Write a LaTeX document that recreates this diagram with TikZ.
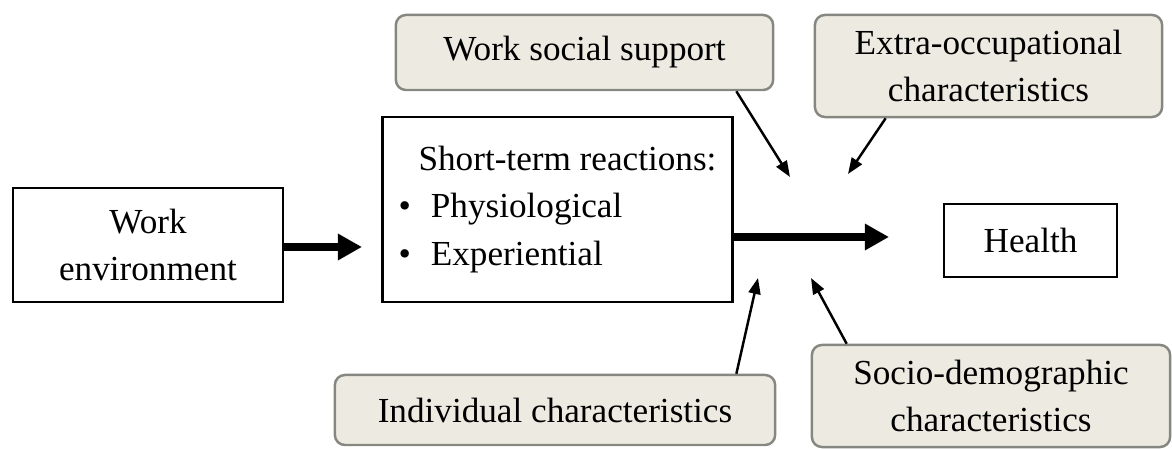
\documentclass[tikz,border=0pt]{standalone}
\usepackage{fontspec}
\setmainfont{Liberation Serif}
\usetikzlibrary{calc,arrows.meta}

\definecolor{notefill}{RGB}{237,235,225}
\definecolor{notedraw}{RGB}{135,135,130}

\tikzset{
  plainbox/.style={draw=black, line width=0.8pt, align=center, inner sep=0pt},
  notebox/.style={draw=notedraw, fill=notefill, line width=0.7pt,
    rounded corners=0.1cm, align=center, inner sep=0pt},
  bigarrow/.style={line width=2pt, -{Triangle[length=0.24cm,width=0.25cm]}},
  smallarrow/.style={line width=0.7pt, -{Triangle[length=0.16cm,width=0.12cm]}}
}

\begin{document}
\begin{tikzpicture}[x=0.01cm,y=-0.01cm]
                    \useasboundingbox (0,0) rectangle (1172,449);
                    {\fontsize{10}{13.5}\selectfont

                    % Box: work environment
                    \node [plainbox, minimum width=2.70cm, minimum height=1.14cm] (env) at (148,245) {Work\\environment};%

                    % Box: short-term reactions
                    \node [plainbox, align=left, minimum width=3.49cm, minimum height=1.85cm] (stb) at (557.5,209.5)
                      {\hspace{0.2cm}Short-term reactions:\\
                       \textbullet\hspace{0.2cm}Physiological\\
                       \textbullet\hspace{0.2cm}Experiential};%

                    % Box: health
                    \node [plainbox, minimum width=1.73cm, minimum height=0.73cm] (health) at (1030.5,240.5) {Health};%

                    % Rounded boxes: moderating factors
                    \node [notebox, minimum width=3.77cm, minimum height=0.75cm] (wss) at (584.5,52.5) {Work social support};%
                    \node [notebox, minimum width=3.47cm, minimum height=1.02cm] (extra) at (988.5,66) {Extra-occupational\\characteristics};%
                    \node [notebox, minimum width=4.40cm, minimum height=0.70cm] (indiv) at (555,410) {Individual characteristics};%
                    \node [notebox, minimum width=3.58cm, minimum height=1.02cm] (socio) at (991,396) {Socio-demographic\\characteristics};%

                    % Drawing main path env -> stb -> health
                    \coordinate (envtip) at (362,247);%
                    \draw [bigarrow] (env.east |- envtip) -- (envtip);%
                    \coordinate (stbtip) at (889,237);%
                    \draw [bigarrow] (stb.east |- stbtip) -- (stbtip);%

                    % Drawing factor arrows onto the main path
                    \coordinate (wsstip) at (790,177);%
                    \draw [smallarrow] ($(wss.south east)+(-38,0)$) -- (wsstip);%
                    \coordinate (extratip) at (848,174);%
                    \draw [smallarrow] ($(extra.south west)+(72,0)$) -- (extratip);%
                    \coordinate (indivtip) at (758,278);%
                    \draw [smallarrow] ($(indiv.north east)+(-40,0)$) -- (indivtip);%
                    \coordinate (sociotip) at (811,278);%
                    \draw [smallarrow] ($(socio.north west)+(36,0)$) -- (sociotip);%
                    }
\end{tikzpicture}
\end{document}
